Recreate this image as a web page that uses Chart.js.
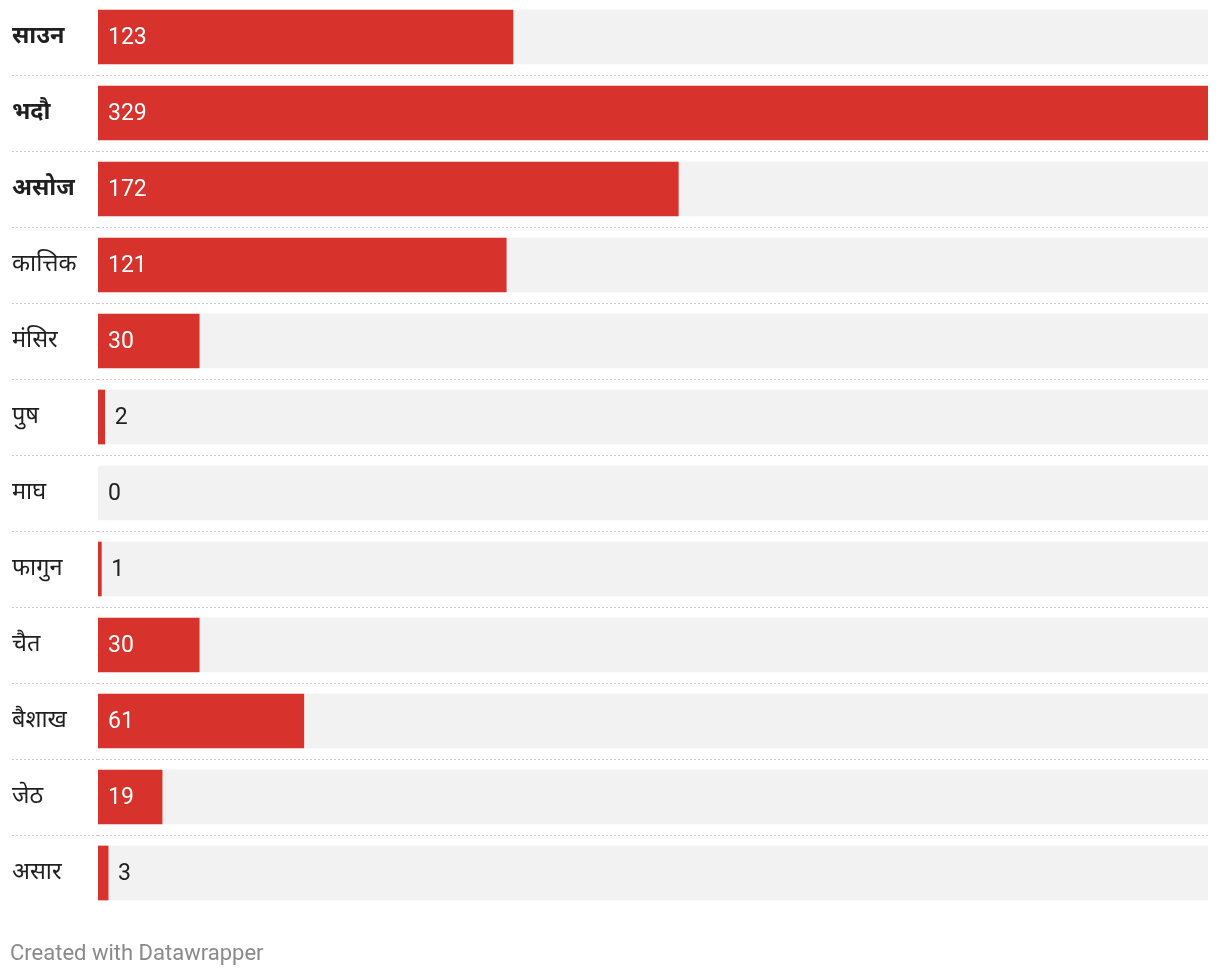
<!DOCTYPE html>
<html>
<head>
<meta charset="utf-8">
<script src="https://cdn.jsdelivr.net/npm/chart.js@4/dist/chart.umd.min.js"></script>
<style>
  html, body { margin: 0; padding: 0; background: #ffffff; }
  #wrap { position: absolute; left: 0; top: -1px; width: 1220px; height: 976px; }
  #footer { position: absolute; left: 10px; top: 942px; font-family: Roboto, sans-serif; font-size: 22px; line-height: 22px; color: #8a8a8a; white-space: nowrap; }
</style>
</head>
<body>
<div id="wrap"><canvas id="c" width="1220" height="976"></canvas></div>
<div id="footer">Created with Datawrapper</div>
<script>
const categories = ["साउन", "भदौ", "असोज", "कात्तिक", "मंसिर", "पुष", "माघ", "फागुन", "चैत", "बैशाख", "जेठ", "असार"];
const values = [123, 329, 172, 121, 30, 2, 0, 1, 30, 61, 19, 3];
const boldRows = [0, 1, 2];

const maxValue = Math.max(...values);
const track = categories.map(() => maxValue);

const valueLabels = {
  id: 'valueLabels',
  afterDatasetsDraw(chart) {
    const ctx = chart.ctx;
    const meta = chart.getDatasetMeta(1);
    ctx.save();
    ctx.font = '400 23px Roboto, sans-serif';
    ctx.textBaseline = 'middle';
    ctx.textAlign = 'left';
    meta.data.forEach((bar, i) => {
      const txt = String(values[i]);
      const w = ctx.measureText(txt).width;
      const base = bar.base;
      const end = bar.x;
      const barW = end - base;
      if (barW > w + 20) {
        ctx.fillStyle = '#ffffff';
        ctx.fillText(txt, base + 10, bar.y + 1);
      } else {
        ctx.fillStyle = '#1f1f1f';
        ctx.fillText(txt, Math.max(end, base) + 10, bar.y + 1);
      }
    });
    ctx.restore();
  }
};

const sepColor = (c) => (c.tick === undefined || c.index === 0) ? 'rgba(0,0,0,0)' : '#cccccc';

new Chart(document.getElementById('c'), {
  type: 'bar',
  data: {
    labels: categories,
    datasets: [
      { data: track, backgroundColor: '#f2f2f2', barThickness: 54, grouped: false, order: 2 },
      { data: values, backgroundColor: (c) => (values[c.dataIndex] > 0 ? '#d7322c' : 'rgba(0,0,0,0)'), barThickness: 54, grouped: false, order: 1, borderWidth: 0 }
    ]
  },
  options: {
    indexAxis: 'y',
    responsive: false,
    animation: false,
    events: [],
    layout: { padding: { left: 12, right: 12, top: 0, bottom: 64 } },
    plugins: { legend: { display: false }, tooltip: { enabled: false } },
    scales: {
      x: { display: false, min: 0, max: maxValue },
      y: {
        border: { display: false, dash: [2, 2] },
        grid: {
          offset: true,
          drawTicks: true,
          tickLength: 86,
          lineWidth: 1,
          color: sepColor,
          tickColor: sepColor,
          tickBorderDash: [2, 2]
        },
        ticks: {
          crossAlign: 'far',
          padding: 0,
          color: '#1f1f1f',
          font: (c) => ({ family: 'Roboto, "Noto Sans", sans-serif', size: 23.5, weight: boldRows.includes(c.index) ? 'bold' : 'normal' })
        },
        afterFit(scale) { scale.width = 86; scale.paddingTop = 0; scale.paddingBottom = 0; }
      }
    }
  },
  plugins: [valueLabels]
});
</script>
</body>
</html>
